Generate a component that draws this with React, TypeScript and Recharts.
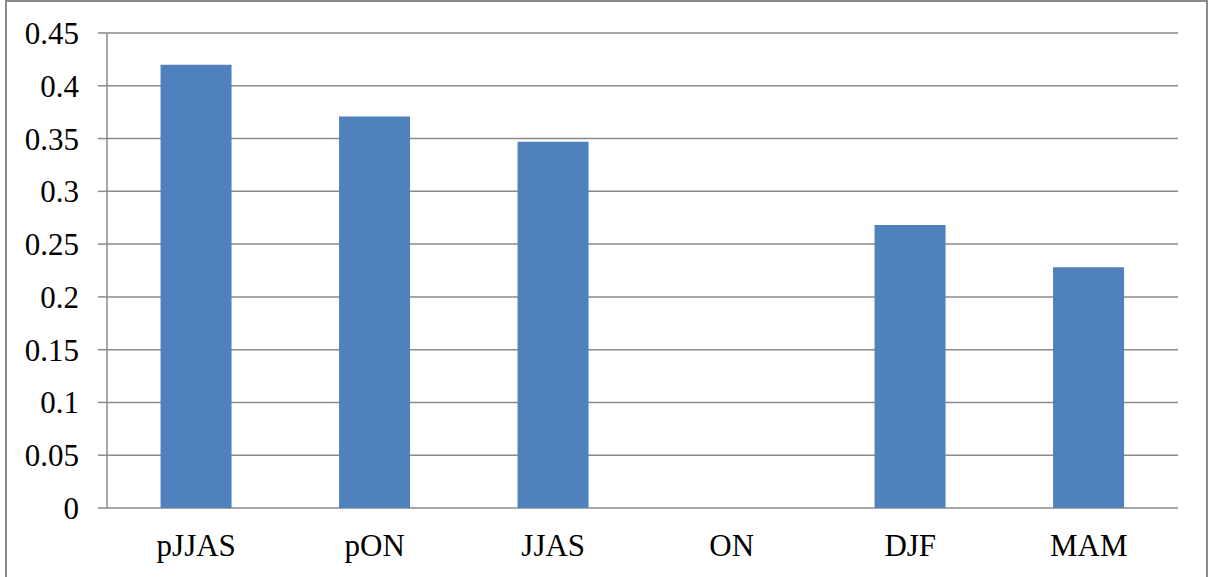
import React from "react";
import { BarChart, Bar, XAxis, YAxis, CartesianGrid } from "recharts";

const categories = ["pJJAS", "pON", "JJAS", "ON", "DJF", "MAM"];
const values = [0.42, 0.371, 0.347, 0, 0.268, 0.228];
const yTicks = [0, 0.05, 0.1, 0.15, 0.2, 0.25, 0.3, 0.35, 0.4, 0.45];
const boundaryTicks = [0, 1, 2, 3, 4, 5, 6];

const data = categories.map((c, i) => ({ name: c, value: values[i] }));

const FONT = "'Liberation Serif', 'Times New Roman', serif";
const GRAY = "#8a8a8a";

export default function App() {
  return (
    <div style={{ position: "absolute", left: 0, top: 0, width: 1209, height: 577, background: "#fff", overflow: "hidden" }}>
      <div
        style={{
          position: "absolute",
          left: 5,
          top: 0,
          width: 1199,
          height: 590,
          borderLeft: `2px solid ${GRAY}`,
          borderTop: `2px solid ${GRAY}`,
          borderRight: `2px solid ${GRAY}`,
        }}
      />
      <div style={{ position: "absolute", left: 0, top: 0 }}>
        <BarChart
          width={1209}
          height={577}
          data={data}
          margin={{ top: 33, right: 31, bottom: 0, left: 0 }}
          barCategoryGap="30%"
        >
          <CartesianGrid horizontal vertical={false} stroke={GRAY} strokeWidth={1.5} />
          <XAxis
            xAxisId="bounds"
            type="number"
            dataKey={() => 0}
            domain={[0, 6]}
            ticks={boundaryTicks}
            tick={false}
            tickSize={8}
            height={0}
            axisLine={{ stroke: GRAY, strokeWidth: 1.5 }}
            tickLine={{ stroke: GRAY, strokeWidth: 1.5 }}
            allowDataOverflow
          />
          <XAxis
            dataKey="name"
            height={69}
            axisLine={false}
            tickLine={false}
            tickMargin={20}
            tick={{ fill: "#000", fontSize: 31, fontFamily: FONT }}
            interval={0}
          />
          <YAxis
            width={107}
            domain={[0, 0.45]}
            ticks={yTicks}
            interval={0}
            tickSize={9}
            tickMargin={19}
            tickFormatter={(v: number) => String(Number(v.toFixed(2)))}
            axisLine={{ stroke: GRAY, strokeWidth: 1.5 }}
            tickLine={{ stroke: GRAY, strokeWidth: 1.5 }}
            tick={{ fill: "#000", fontSize: 31, fontFamily: FONT }}
          />
          <Bar dataKey="value" fill="#4F81BD" isAnimationActive={false} />
        </BarChart>
      </div>
    </div>
  );
}
